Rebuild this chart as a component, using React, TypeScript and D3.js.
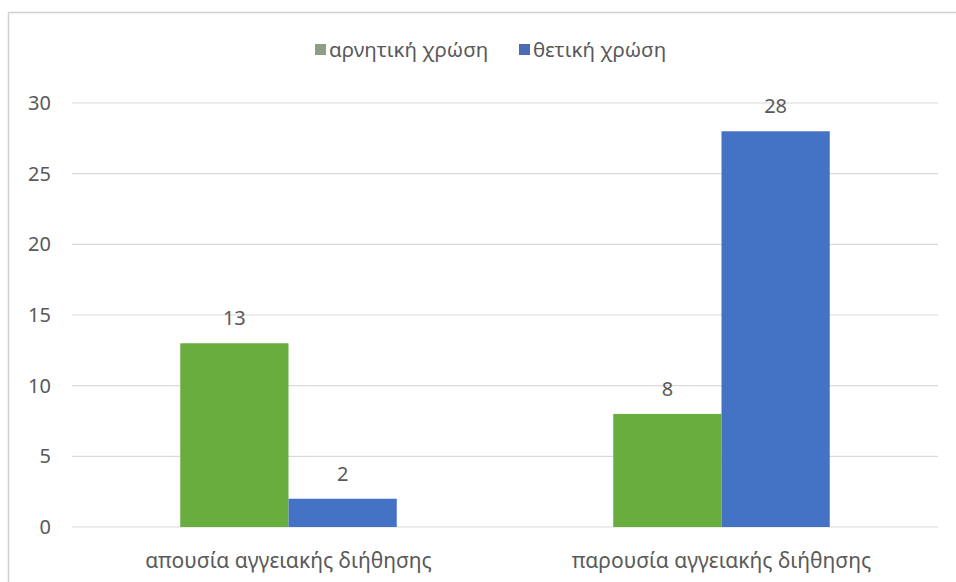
import React from "react";
import * as d3 from "d3";

const categories = ["απουσία αγγειακής διήθησης", "παρουσία αγγειακής διήθησης"];
const seriesNames = ["αρνητική χρώση", "θετική χρώση"];
const negativeValues = [13, 8];
const positiveValues = [2, 28];
const yTicks = [0, 5, 10, 15, 20, 25, 30];

const barColors = ["#6aad3f", "#4472c4"];
const swatchColors = ["#8f9c86", "#4b6cb5"];
const textColor = "#595959";
const font = "'Noto Sans', 'Open Sans', sans-serif";

export default function App() {
  const W = 956, H = 582;
  const x0 = d3.scaleBand<string>().domain(categories).range([72, 938]).paddingInner(0).paddingOuter(0);
  const x1 = d3.scaleBand<string>().domain(seriesNames).range([0, x0.bandwidth()]).paddingOuter(1).paddingInner(0);
  const y = d3.scaleLinear().domain([0, 30]).range([527, 103]);
  const series = [negativeValues, positiveValues];

  return (
    <svg width={W} height={H} style={{ position: "absolute", left: 0, top: 0, background: "#fff" }} fontFamily={font}>
      <rect x={0} y={0} width={W} height={H} fill="#fff" />
      <line x1={8.5} y1={12.5} x2={W} y2={12.5} stroke="#d0d0d0" strokeWidth={1.5} />
      <line x1={8.5} y1={12.5} x2={8.5} y2={H} stroke="#d0d0d0" strokeWidth={1.5} />

      {/* legend */}
      {seriesNames.map((s, i) => {
        const lx = [315, 519][i];
        return (
          <g key={s}>
            <rect x={lx} y={44} width={11} height={11} fill={swatchColors[i]} />
            <text x={lx + 14} y={57} fontSize={20.5} fill={textColor}>{s}</text>
          </g>
        );
      })}

      {/* grid + y ticks */}
      {yTicks.map((t) => (
        <g key={t}>
          <line x1={72} x2={938} y1={y(t)} y2={y(t)} stroke="#d9d9d9" strokeWidth={1.2} />
          <text x={51} y={y(t)} dy="0.35em" textAnchor="end" fontSize={20} fill={textColor}>{t}</text>
        </g>
      ))}

      {/* bars */}
      {categories.map((c, ci) => (
        <g key={c} transform={`translate(${x0(c)},0)`}>
          {seriesNames.map((s, si) => {
            const v = series[si][ci];
            const bx = x1(s)!;
            return (
              <g key={s}>
                <rect x={bx} y={y(v)} width={x1.bandwidth()} height={y(0) - y(v)} fill={barColors[si]} />
                <text x={bx + x1.bandwidth() / 2} y={y(v) - 18} textAnchor="middle" fontSize={20} fill={textColor}>{v}</text>
              </g>
            );
          })}
        </g>
      ))}

      {/* category labels */}
      {categories.map((c) => (
        <text key={c} x={x0(c)! + x0.bandwidth() / 2} y={568} textAnchor="middle" fontSize={21} fill={textColor}>{c}</text>
      ))}
    </svg>
  );
}
